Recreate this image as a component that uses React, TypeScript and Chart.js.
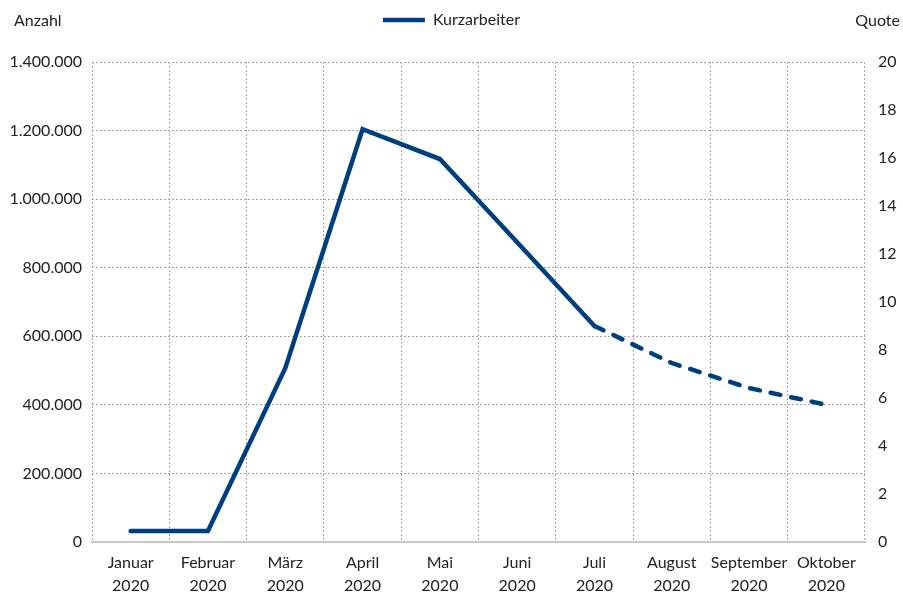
import React, { useEffect, useRef } from "react";
import { Chart, registerables } from "chart.js";

Chart.register(...registerables);

const months = ["Januar", "Februar", "März", "April", "Mai", "Juni", "Juli", "August", "September", "Oktober"];
const yearLabel = "2020";
const kurzarbeiter = [32000, 32000, 507000, 1204000, 1117000, 874000, 630000, 522000, 449000, 400000];
const dashedFromIndex = 6;
const leftTitle = "Anzahl";
const rightTitle = "Quote";
const seriesName = "Kurzarbeiter";

const FONT = "Lato, 'Noto Sans', sans-serif";
const LINE_COLOR = "#003f7f";
const GRID_COLOR = "#a8a8a8";

function fmt(v: number): string {
  return String(Math.round(v)).replace(/\B(?=(\d{3})+(?!\d))/g, ".");
}

export default function App() {
  const ref = useRef<HTMLCanvasElement | null>(null);

  useEffect(() => {
    if (!ref.current) return;
    const chart = new Chart(ref.current, {
      type: "line",
      data: {
        labels: months.map((m) => [m, yearLabel]),
        datasets: [
          {
            label: seriesName,
            data: kurzarbeiter,
            borderColor: LINE_COLOR,
            backgroundColor: LINE_COLOR,
            borderWidth: 4.5,
            borderCapStyle: "round",
            borderJoinStyle: "miter",
            pointRadius: 0,
            tension: 0,
            yAxisID: "y",
            segment: {
              borderDash: (ctx: any) => (ctx.p0DataIndex >= dashedFromIndex ? [10, 11] : undefined),
            },
          },
        ],
      },
      options: {
        animation: false,
        responsive: false,
        maintainAspectRatio: false,
        layout: { padding: { top: 2, bottom: 0, left: 0, right: 0 } },
        plugins: {
          legend: {
            display: true,
            position: "top",
            labels: {
              usePointStyle: true,
              pointStyle: "line",
              pointStyleWidth: 42,
              boxHeight: 16,
              color: "#222",
              font: { family: FONT, size: 16 },
              padding: 10,
            },
          },
          subtitle: {
            display: true,
            text: " ",
            position: "top",
            weight: 500,
            font: { family: FONT, size: 10, lineHeight: 1 },
            padding: { top: 0, bottom: 14 },
          },
          tooltip: { enabled: false },
        },
        scales: {
          x: {
            type: "category",
            offset: true,
            grid: { display: true, offset: true, color: GRID_COLOR, lineWidth: 1, drawTicks: false },
            border: { display: true, color: "#c8c8c8", width: 2, dash: [2, 2] },
            ticks: {
              color: "#222",
              font: { family: FONT, size: 16, lineHeight: 1.4 },
              padding: 10,
              maxRotation: 0,
              autoSkip: false,
            },
            afterFit: (s: any) => {
              s.height = 50;
            },
          },
          y: {
            position: "left",
            min: 0,
            max: 1400000,
            ticks: {
              stepSize: 200000,
              color: "#222",
              font: { family: FONT, size: 16 },
              padding: 10,
              callback: (v: any) => fmt(Number(v)),
            },
            grid: { display: true, color: GRID_COLOR, lineWidth: 1, drawTicks: false },
            border: { display: false, dash: [2, 2] },
            afterFit: (s: any) => {
              s.width = 92;
            },
          },
          y2: {
            position: "right",
            min: 0,
            max: 20,
            ticks: {
              stepSize: 2,
              color: "#222",
              font: { family: FONT, size: 16 },
              padding: 13,
            },
            grid: { display: false, drawOnChartArea: false, drawTicks: false },
            border: { display: false },
            afterFit: (s: any) => {
              s.width = 38;
            },
          },
        },
      } as any,
    });
    return () => chart.destroy();
  }, []);

  return (
    <div style={{ position: "absolute", left: 0, top: 0, width: 903, height: 592, background: "#fff" }}>
      <canvas ref={ref} width={903} height={592} style={{ display: "block", width: 903, height: 592 }} />
      <div
        style={{
          position: "absolute",
          left: 14,
          top: 10,
          fontFamily: FONT,
          fontSize: 16,
          color: "#222",
          lineHeight: "20px",
        }}
      >
        {leftTitle}
      </div>
      <div
        style={{
          position: "absolute",
          right: 3,
          top: 10,
          fontFamily: FONT,
          fontSize: 16,
          color: "#222",
          lineHeight: "20px",
        }}
      >
        {rightTitle}
      </div>
    </div>
  );
}
